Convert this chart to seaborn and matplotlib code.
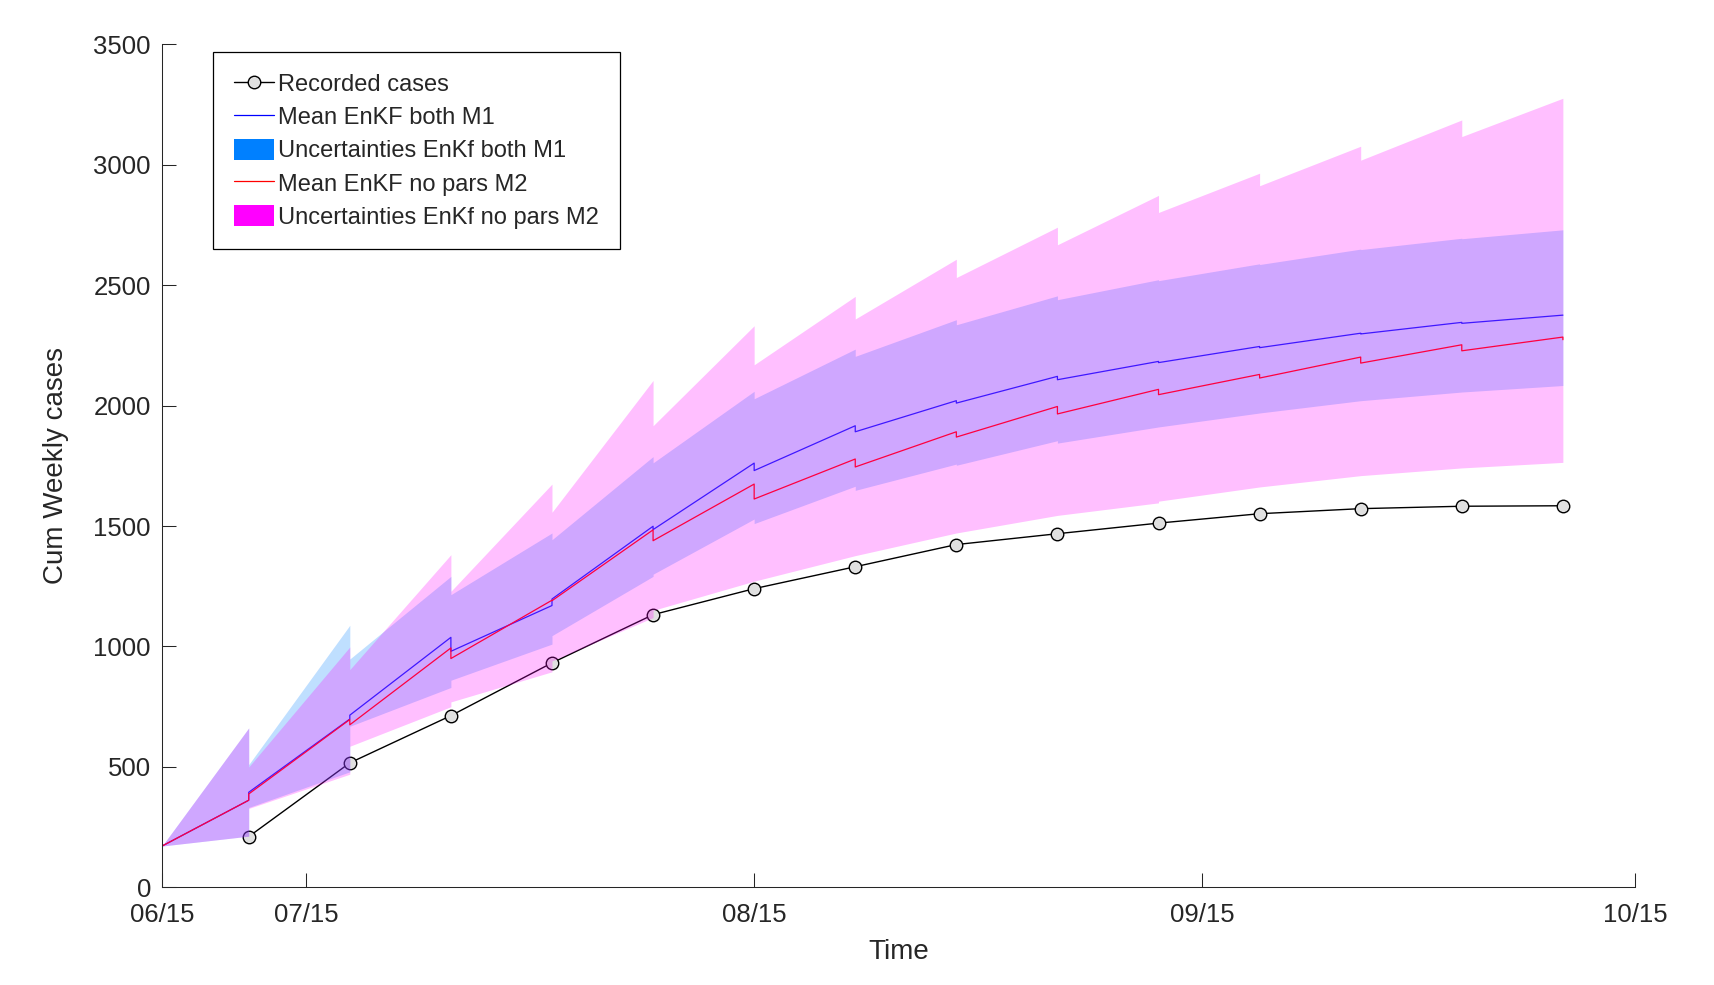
import numpy as np
import matplotlib
matplotlib.use("Agg")
import matplotlib.pyplot as plt
from matplotlib.lines import Line2D
from matplotlib.patches import Patch
import seaborn as sns

# dias de analisis (semanales) y valor inicial comun en el dia 0
DIAS = [6, 13, 20, 27, 34, 41, 48, 55, 62, 69, 76, 83, 90, 97]
X0, Y0 = 0, 172

recorded = [211, 517, 713, 932, 1132, 1240, 1331, 1423, 1468, 1512, 1551, 1572, 1582, 1584]

# M1: prevision (llegada) y analisis (tras el salto)
m1_mean_fc = [362, 699, 1038, 1170, 1499, 1761, 1916, 2020, 2121, 2183, 2245, 2300, 2345, 2375]
m1_mean_an = [395, 715, 980, 1197, 1485, 1730, 1891, 2010, 2107, 2178, 2240, 2297, 2341, 2375]
m1_hi_fc = [662, 1088, 1291, 1471, 1788, 2059, 2234, 2356, 2455, 2522, 2588, 2649, 2694, 2729]
m1_hi_an = [510, 948, 1215, 1443, 1762, 2028, 2204, 2335, 2439, 2518, 2585, 2647, 2692, 2729]
m1_lo_fc = [213, 480, 830, 1010, 1291, 1529, 1665, 1757, 1854, 1911, 1969, 2020, 2056, 2083]
m1_lo_an = [332, 669, 860, 1045, 1300, 1510, 1648, 1752, 1844, 1911, 1969, 2020, 2056, 2083]

# M2
m2_mean_fc = [362, 697, 994, 1192, 1484, 1674, 1778, 1891, 1996, 2067, 2129, 2201, 2252, 2284]
m2_mean_an = [388, 675, 950, 1190, 1439, 1612, 1745, 1869, 1965, 2045, 2114, 2176, 2227, 2273]
m2_hi_fc = [662, 998, 1381, 1674, 2104, 2331, 2453, 2607, 2740, 2872, 2964, 3076, 3185, 3275]
m2_hi_an = [500, 904, 1229, 1557, 1916, 2169, 2359, 2531, 2667, 2801, 2912, 3018, 3116, 3275]
m2_lo_fc = [213, 470, 750, 895, 1120, 1271, 1377, 1471, 1544, 1596, 1662, 1709, 1741, 1764]
m2_lo_an = [328, 586, 770, 940, 1150, 1271, 1377, 1471, 1544, 1603, 1662, 1709, 1741, 1764]

TICKS = [0, 10, 41, 72, 102]
TICK_LABELS = ["06/15", "07/15", "08/15", "09/15", "10/15"]


def diente_sierra(fc, an, cierre=True):
    # serie prevision -> analisis en cada dia de observacion
    xs, ys = [X0], [Y0]
    for i, d in enumerate(DIAS):
        xs.append(d); ys.append(fc[i])
        if cierre or i < len(DIAS) - 1:
            xs.append(d); ys.append(an[i])
    return np.array(xs), np.array(ys)


sns.set_theme(style="ticks")
plt.rcParams["font.family"] = ["Liberation Sans", "DejaVu Sans"]
GRIS = (0.15, 0.15, 0.15)
MARK = dict(marker="o", markersize=9, markerfacecolor=(0.88, 0.88, 0.88),
            markeredgecolor="black", markeredgewidth=1.0)

fig = plt.figure(figsize=(17.15, 9.85), dpi=100)
ax = fig.add_axes([0.0945, 0.099, 0.8589, 0.8563])

sns.lineplot(x=DIAS, y=recorded, ax=ax, color="black", lw=1.0,
             estimator=None, sort=False, zorder=2.0, **MARK)

x, y = diente_sierra(m1_mean_fc, m1_mean_an)
sns.lineplot(x=x, y=y, ax=ax, color="#0000FF", lw=0.9, estimator=None, sort=False, zorder=2.1)
xb, lo = diente_sierra(m1_lo_fc, m1_lo_an, cierre=False)
_, hi = diente_sierra(m1_hi_fc, m1_hi_an, cierre=False)
ax.fill_between(xb, lo, hi, color=(0, 0.5, 1), alpha=0.25, lw=0, zorder=2.2)

x, y = diente_sierra(m2_mean_fc, m2_mean_an)
sns.lineplot(x=x, y=y, ax=ax, color="#FF0000", lw=0.9, estimator=None, sort=False, zorder=2.3)
xb, lo = diente_sierra(m2_lo_fc, m2_lo_an, cierre=False)
_, hi = diente_sierra(m2_hi_fc, m2_hi_an, cierre=False)
ax.fill_between(xb, lo, hi, color=(1, 0, 1), alpha=0.25, lw=0, zorder=2.4)

ax.set_xlim(0, 102)
ax.set_ylim(0, 3500)
ax.set_xticks(TICKS)
ax.set_xticklabels(TICK_LABELS)
ax.set_yticks(np.arange(0, 3501, 500))
ax.tick_params(axis="both", direction="in", length=10, width=0.75, colors=GRIS,
               labelsize=18.5)
ax.tick_params(axis="x", pad=11)
ax.tick_params(axis="y", pad=8)
sns.despine(ax=ax)
for s in ["left", "bottom"]:
    ax.spines[s].set_color(GRIS)
    ax.spines[s].set_linewidth(0.75)

ax.set_xlabel("Time", fontsize=20, color=GRIS)
ax.set_ylabel("Cum Weekly cases", fontsize=20, color=GRIS)
ax.xaxis.set_label_coords(0.5, -0.0605)
ax.yaxis.set_label_coords(-0.063, 0.5)

handles = [
    Line2D([], [], color="black", lw=1.0, **MARK),
    Line2D([], [], color="#0000FF", lw=0.9),
    Patch(facecolor=(0, 0.5, 1), edgecolor="none"),
    Line2D([], [], color="#FF0000", lw=0.9),
    Patch(facecolor=(1, 0, 1), edgecolor="none"),
]
labels = ["Recorded cases", "Mean EnKF both M1", "Uncertainties EnKf both M1",
          "Mean EnKF no pars M2", "Uncertainties EnKf no pars M2"]
leg = ax.legend(handles, labels, loc="upper left", bbox_to_anchor=(0.0346, 0.9905),
                borderaxespad=0, fontsize=17, frameon=True, fancybox=False,
                framealpha=1, edgecolor="black", handlelength=1.7, handleheight=1.0,
                handletextpad=0.2, labelspacing=0.4, borderpad=0.87)
leg.get_frame().set_linewidth(0.9)

fig.savefig("out.png", dpi=100)
